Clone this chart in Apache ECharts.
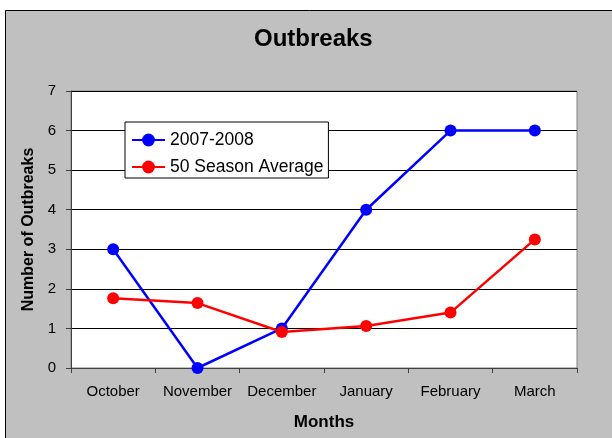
<!DOCTYPE html>
<html>
<head>
<meta charset="utf-8">
<script src="https://cdn.jsdelivr.net/npm/echarts@6/dist/echarts.min.js"></script>
<style>
  html, body { margin: 0; padding: 0; background: #fff; }
  #chart { width: 612px; height: 438px; }
</style>
</head>
<body>
<div id="chart"></div>
<script>
// data
const months = ['October', 'November', 'December', 'January', 'February', 'March'];
const season0708 = [3, 0, 1, 4, 6, 6];
const seasonAverage = [1.76, 1.64, 0.91, 1.06, 1.4, 3.25];
const yTicks = [0, 1, 2, 3, 4, 5, 6, 7];

const font = "'Liberation Sans', Arial, sans-serif";

const chart = echarts.init(document.getElementById('chart'));
chart.setOption({
  animation: false,
  backgroundColor: '#fff',
  // gray chart area with black frame
  graphic: [
    {
      type: 'rect',
      z: -10,
      silent: true,
      shape: { x: 5.5, y: 10.5, width: 700, height: 500 },
      style: { fill: '#c0c0c0', stroke: '#000', lineWidth: 1 },
    },
  ],
  title: {
    text: 'Outbreaks',
    left: 254,
    top: 27,
    padding: 0,
    textStyle: { fontFamily: font, fontSize: 24, fontWeight: 'bold', color: '#000' },
  },
  legend: {
    orient: 'vertical',
    left: 125,
    top: 122,
    padding: [9, 5, 2, 6],
    itemGap: 9,
    itemWidth: 33,
    itemHeight: 16,
    backgroundColor: '#fff',
    borderColor: '#000',
    borderWidth: 1,
    borderRadius: 0,
    textStyle: { fontFamily: font, fontSize: 17.5, color: '#000', lineHeight: 18 },
    data: ['2007-2008', '50 Season Average'],
  },
  grid: {
    left: 71,
    right: 35,
    top: 91,
    bottom: 70,
    show: true,
    backgroundColor: '#fff',
    borderColor: '#808080',
    borderWidth: 1,
  },
  xAxis: {
    type: 'category',
    data: months,
    boundaryGap: true,
    name: 'Months',
    nameLocation: 'middle',
    nameGap: 46,
    nameTextStyle: { fontFamily: font, fontSize: 17, fontWeight: 'bold', color: '#000' },
    axisLine: { lineStyle: { color: '#404040', width: 1 } },
    axisTick: { show: true, length: 5, interval: 0, lineStyle: { color: '#404040' } },
    axisLabel: { interval: 0, fontFamily: font, fontSize: 15, color: '#000', margin: 16 },
  },
  yAxis: {
    type: 'value',
    min: yTicks[0],
    max: yTicks[yTicks.length - 1],
    interval: 1,
    name: 'Number of Outbreaks',
    nameLocation: 'middle',
    nameRotate: 90,
    nameGap: 34,
    nameTextStyle: { fontFamily: font, fontSize: 16, fontWeight: 'bold', color: '#000' },
    axisLine: { show: true, lineStyle: { color: '#404040', width: 1 } },
    axisTick: { show: true, length: 5, lineStyle: { color: '#404040' } },
    axisLabel: { fontFamily: font, fontSize: 15, color: '#000', margin: 15 },
    splitLine: { show: true, lineStyle: { color: '#000', width: 1 } },
  },
  series: [
    {
      name: '2007-2008',
      type: 'line',
      data: season0708,
      symbol: 'circle',
      symbolSize: 12,
      color: '#0000ff',
      lineStyle: { color: '#0000ff', width: 2.5 },
      itemStyle: { color: '#0000ff' },
    },
    {
      name: '50 Season Average',
      type: 'line',
      data: seasonAverage,
      symbol: 'circle',
      symbolSize: 12,
      color: '#ff0000',
      lineStyle: { color: '#ff0000', width: 2.5 },
      itemStyle: { color: '#ff0000' },
    },
  ],
});
</script>
</body>
</html>
